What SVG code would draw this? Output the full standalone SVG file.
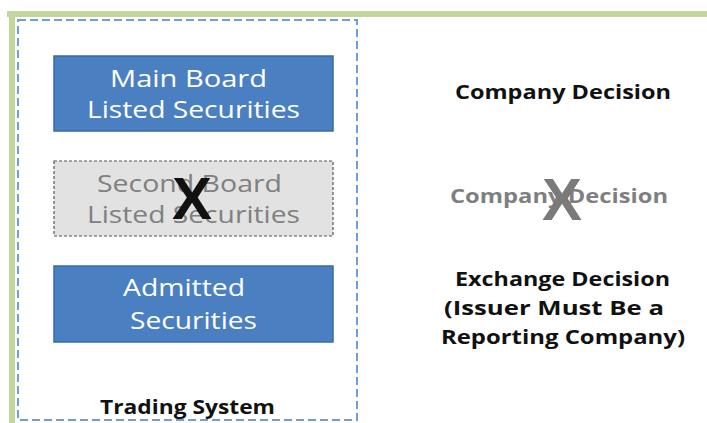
<svg xmlns="http://www.w3.org/2000/svg" width="707" height="423" viewBox="0 0 707 423">
<style>
.box{stroke:#3a6aa8;stroke-width:1.5}
.bt{font-family:"Open Sans","Liberation Sans",sans-serif;font-size:23px;fill:#ffffff}
.gt{font-family:"Open Sans","Liberation Sans",sans-serif;font-size:23px;fill:#808080}
.rt{font-family:"Open Sans","Liberation Sans",sans-serif;font-weight:bold;font-size:19px;fill:#111}
.rg{font-family:"Open Sans","Liberation Sans",sans-serif;font-weight:bold;font-size:19px;fill:#7f7f7f}
.x{font-family:"Liberation Sans",sans-serif;font-weight:bold;font-size:60px;text-anchor:middle}
</style>
<rect width="707" height="423" fill="#ffffff"/>
<g id="frame">
<rect x="7" y="11" width="700" height="6" fill="#c3d69b"/>
<rect x="9" y="11" width="6" height="412" fill="#c3d69b"/>
</g>
<g id="trading-system">
<rect x="18" y="20" width="339" height="400" fill="none" stroke="#6f9fd8" stroke-width="2" stroke-dasharray="8,4"/>
<text class="rt" x="100" y="414" textLength="175" lengthAdjust="spacingAndGlyphs">Trading System</text>
</g>
<g id="main-board">
<rect class="box" x="54" y="56" width="279" height="75" fill="#4a7fc1"/>
<text class="bt" x="110" y="87" textLength="157" lengthAdjust="spacingAndGlyphs">Main Board</text>
<text class="bt" x="87" y="118" textLength="213" lengthAdjust="spacingAndGlyphs">Listed Securities</text>
</g>
<g id="second-board">
<rect x="54" y="161" width="279" height="75" fill="#e2e2e2" stroke="#555" stroke-width="1.2" stroke-dasharray="3,2"/>
<text class="gt" x="97" y="192" textLength="185" lengthAdjust="spacingAndGlyphs">Second Board</text>
<text class="gt" x="87" y="223" textLength="213" lengthAdjust="spacingAndGlyphs">Listed Securities</text>
<text class="x" x="192" y="219" fill="#111">X</text>
</g>
<g id="admitted">
<rect class="box" x="54" y="266" width="279" height="76" fill="#4a7fc1"/>
<text class="bt" x="123" y="296" textLength="122" lengthAdjust="spacingAndGlyphs">Admitted</text>
<text class="bt" x="130" y="329" textLength="127" lengthAdjust="spacingAndGlyphs">Securities</text>
</g>
<g id="company-decision">
<text class="rt" x="455" y="99" textLength="216" lengthAdjust="spacingAndGlyphs">Company Decision</text>
</g>
<g id="company-decision-crossed">
<text class="rg" x="450" y="203" textLength="218" lengthAdjust="spacingAndGlyphs">Company Decision</text>
<text class="x" x="562" y="220" fill="#7a7a7a">X</text>
</g>
<g id="exchange-decision">
<text class="rt" x="455" y="286" textLength="215" lengthAdjust="spacingAndGlyphs">Exchange Decision</text>
<text class="rt" x="444" y="315" textLength="220" lengthAdjust="spacingAndGlyphs">(Issuer Must Be a</text>
<text class="rt" x="441" y="344" textLength="244" lengthAdjust="spacingAndGlyphs">Reporting Company)</text>
</g>
<g id="connectors"></g>
</svg>
